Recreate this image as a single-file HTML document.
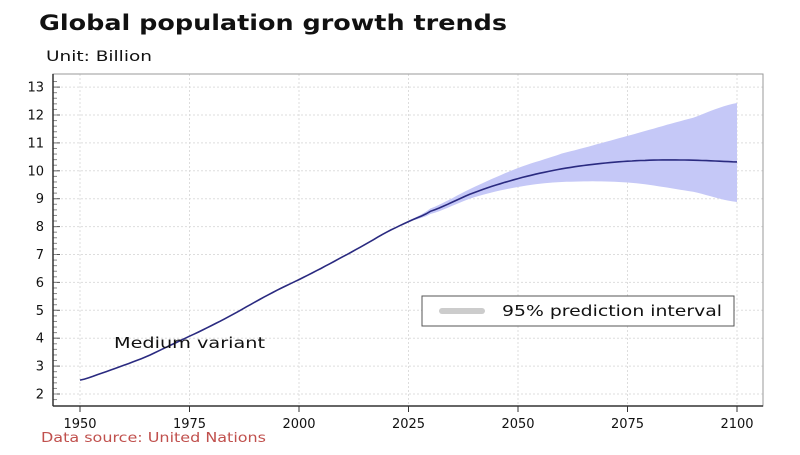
<!DOCTYPE html>
<html><head><meta charset="utf-8"><style>
body{margin:0;background:#fff;width:800px;height:450px;overflow:hidden}
</style></head><body>
<svg id="s" width="800" height="450" xmlns="http://www.w3.org/2000/svg" font-family="DejaVu Sans, Liberation Sans, sans-serif">
<text x="39" y="30" font-size="21" font-weight="bold" fill="#111" textLength="468" lengthAdjust="spacingAndGlyphs">Global population growth trends</text>
<text x="46" y="61" font-size="14" fill="#111" textLength="106" lengthAdjust="spacingAndGlyphs">Unit: Billion</text>
<g id="g"></g>
<rect x="53" y="74" width="710" height="332" fill="none" stroke="#999" stroke-width="1"/>
<line x1="53" y1="74" x2="53" y2="406" stroke="#333" stroke-width="1.5"/>
<line x1="53" y1="406" x2="763" y2="406" stroke="#333" stroke-width="1.5"/>
<text x="114" y="348" font-size="15" fill="#111" textLength="151" lengthAdjust="spacingAndGlyphs">Medium variant</text>
<rect x="422" y="296" width="312" height="30" fill="#fff" stroke="#555" stroke-width="1"/>
<line x1="442" y1="311" x2="482" y2="311" stroke="#ccc" stroke-width="6" stroke-linecap="round"/>
<text x="502" y="316" font-size="15" fill="#111" textLength="220" lengthAdjust="spacingAndGlyphs">95% prediction interval</text>
<text x="41" y="442" font-size="13" fill="#c0504d" textLength="225" lengthAdjust="spacingAndGlyphs">Data source: United Nations</text>
</svg>
<script>
var X=function(y){return 80+(y-1950)*4.38},Y=function(v){return 394-(v-2)*27.9};
var g='';
for(var v=2;v<=13;v++){g+='<line x1="53" x2="763" y1="'+Y(v)+'" y2="'+Y(v)+'" stroke="#ddd" stroke-dasharray="2,2"/>';
g+='<text x="44" y="'+(Y(v)+4.5)+'" font-size="13" text-anchor="end" fill="#111">'+v+'</text>';
g+='<line x1="53" x2="60" y1="'+Y(v)+'" y2="'+Y(v)+'" stroke="#555"/>';}
for(var v=1.8;v<13.3;v+=0.2){g+='<line x1="53" x2="57" y1="'+Y(v)+'" y2="'+Y(v)+'" stroke="#888"/>';}
for(var yr=1950;yr<=2100;yr+=25){g+='<line y1="74" y2="406" x1="'+X(yr)+'" x2="'+X(yr)+'" stroke="#ddd" stroke-dasharray="2,2"/>';
g+='<line y1="406" y2="412" x1="'+X(yr)+'" x2="'+X(yr)+'" stroke="#333"/>';
g+='<text y="428" x="'+X(yr)+'" font-size="13" text-anchor="middle" fill="#111">'+yr+'</text>';}
function interp(pts){var out=[];for(var yr=pts[0][0];yr<=pts[pts.length-1][0];yr+=1){for(var i=0;i<pts.length-1;i++){if(yr>=pts[i][0]&&yr<=pts[i+1][0]){var t=(yr-pts[i][0])/(pts[i+1][0]-pts[i][0]);
var p0=pts[Math.max(i-1,0)][1],p1=pts[i][1],p2=pts[i+1][1],p3=pts[Math.min(i+2,pts.length-1)][1];
var v=0.5*((2*p1)+(-p0+p2)*t+(2*p0-5*p1+4*p2-p3)*t*t+(-p0+3*p1-3*p2+p3)*t*t*t);out.push([yr,v]);break;}}}return out;}
var up=interp([[2022,8.0],[2025,8.22],[2030,8.65],[2040,9.42],[2050,10.1],[2060,10.62],[2075,11.25],[2090,11.9],[2100,12.43]]);
var lo=interp([[2022,8.0],[2025,8.18],[2030,8.45],[2040,9.05],[2050,9.42],[2060,9.6],[2075,9.58],[2090,9.25],[2100,8.88]]).reverse();
var p='';up.concat(lo).forEach(function(a,i){p+=(i?'L':'M')+X(a[0]).toFixed(1)+','+Y(a[1]).toFixed(1)});
g+='<path d="'+p+'Z" fill="#c5c8f7"/>';
var m=interp([[1950,2.5],[1955,2.75],[1960,3.03],[1965,3.33],[1970,3.7],[1975,4.07],[1980,4.45],[1985,4.86],[1990,5.3],[1995,5.72],[2000,6.1],[2005,6.5],[2010,6.92],[2015,7.35],[2020,7.8],[2025,8.18],[2030,8.55],[2040,9.22],[2050,9.72],[2060,10.07],[2070,10.28],[2080,10.38],[2090,10.38],[2100,10.32]]);
p='';m.forEach(function(a,i){p+=(i?'L':'M')+X(a[0]).toFixed(1)+','+Y(a[1]).toFixed(1)});
g+='<path d="'+p+'" fill="none" stroke="#2a2a80" stroke-width="1.6"/>';
document.getElementById('g').innerHTML=g;
</script>
</body></html>
